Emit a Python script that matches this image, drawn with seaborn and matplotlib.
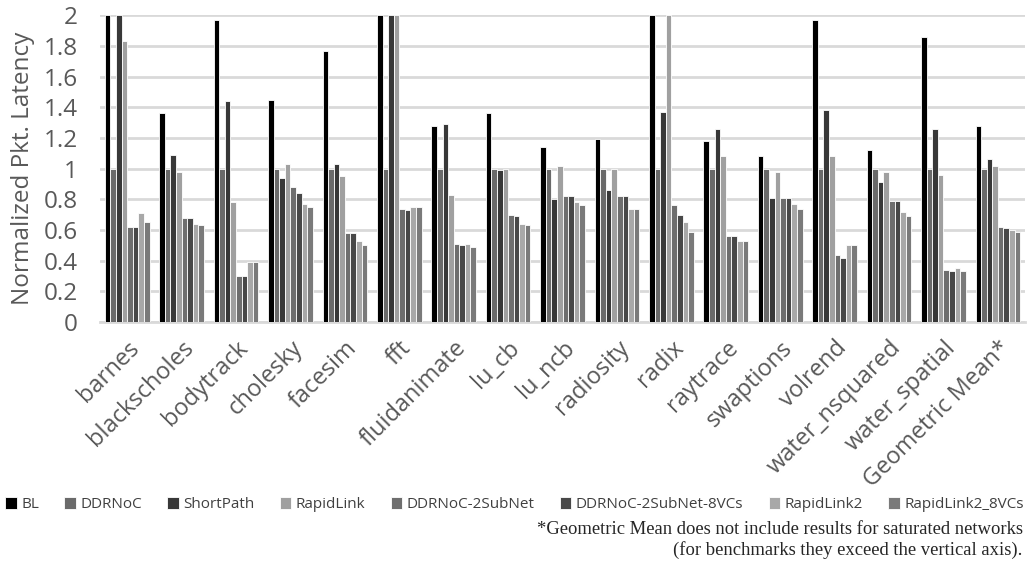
import numpy as np
import matplotlib
matplotlib.use('Agg')
import matplotlib.pyplot as plt
import seaborn as sns
import pandas as pd

# ------------------------------------------ Data ------------------------------------------ #
benchmarks = ['barnes', 'blackscholes', 'bodytrack', 'cholesky', 'facesim', 'fft',
              'fluidanimate', 'lu_cb', 'lu_ncb', 'radiosity', 'radix', 'raytrace',
              'swaptions', 'volrend', 'water_nsquared', 'water_spatial', 'Geometric Mean*']
series = ['BL', 'DDRNoC', 'ShortPath', 'RapidLink', 'DDRNoC-2SubNet',
          'DDRNoC-2SubNet-8VCs', 'RapidLink2', 'RapidLink2_8VCs']

# saturated results are clipped at the top of the axis (2.0)
bl = [2.0, 1.36, 1.97, 1.45, 1.77, 2.0, 1.28, 1.36, 1.14, 1.19, 2.0, 1.18, 1.08, 1.97, 1.12, 1.86, 1.28]
ddrnoc = [1.0] * 17
shortpath = [2.0, 1.09, 1.44, 0.94, 1.03, 2.0, 1.29, 0.99, 0.80, 0.86, 1.37, 1.26, 0.81, 1.38, 0.91, 1.26, 1.06]
rapidlink = [1.83, 0.98, 0.78, 1.03, 0.95, 2.0, 0.83, 1.00, 1.02, 1.00, 2.0, 1.08, 0.98, 1.08, 0.98, 0.96, 1.02]
subnet2 = [0.62, 0.68, 0.30, 0.88, 0.58, 0.74, 0.51, 0.70, 0.82, 0.82, 0.76, 0.56, 0.81, 0.44, 0.79, 0.34, 0.62]
subnet2_8vc = [0.62, 0.68, 0.30, 0.84, 0.58, 0.73, 0.50, 0.69, 0.82, 0.82, 0.70, 0.56, 0.81, 0.42, 0.79, 0.33, 0.61]
rapidlink2 = [0.71, 0.64, 0.39, 0.77, 0.53, 0.75, 0.51, 0.64, 0.78, 0.74, 0.65, 0.53, 0.77, 0.50, 0.72, 0.35, 0.60]
rapidlink2_8vc = [0.65, 0.63, 0.39, 0.75, 0.50, 0.75, 0.49, 0.63, 0.76, 0.74, 0.59, 0.53, 0.74, 0.50, 0.69, 0.33, 0.59]

colors = ['#000000', '#6a6a6a', '#383838', '#a0a0a0', '#6e6e6e', '#484848', '#a8a8a8', '#7a7a7a']
grid_c = '#d9d9d9'
txt_c = '#595959'

# ------------------------------------------ Long format ------------------------------------------ #
values = [bl, ddrnoc, shortpath, rapidlink, subnet2, subnet2_8vc, rapidlink2, rapidlink2_8vc]
rows = []
for s, vals in zip(series, values):
    for b, v in zip(benchmarks, vals):
        rows.append({'Benchmark': b, 'Config': s, 'Latency': v})
df = pd.DataFrame(rows)

# ------------------------------------------ Plot ------------------------------------------ #
sns.set_style('white')
plt.rcParams['font.family'] = ['Open Sans', 'DejaVu Sans']

fig = plt.figure(figsize=(10.29, 5.64), dpi=100)
ax = fig.add_axes([0.0972, 0.429, 0.899, 0.544])

sns.barplot(data=df, x='Benchmark', y='Latency', hue='Config', order=benchmarks,
            hue_order=series, palette=colors, saturation=1, width=0.82,
            edgecolor='white', linewidth=0.6, ax=ax, legend=True, zorder=3)

ax.set_ylim(0, 2)
ax.set_xlim(-0.5, len(benchmarks) - 0.5)
ax.set_yticks(np.arange(0, 2.01, 0.2))
ax.set_yticklabels(['0', '0.2', '0.4', '0.6', '0.8', '1', '1.2', '1.4', '1.6', '1.8', '2'])
ax.yaxis.grid(True, color=grid_c, linewidth=2, zorder=0)
ax.set_axisbelow(True)
for sp in ['top', 'right', 'left']:
    ax.spines[sp].set_visible(False)
ax.spines['bottom'].set_color(grid_c)
ax.spines['bottom'].set_linewidth(2)
ax.tick_params(axis='y', length=0, labelsize=17.5, colors=txt_c, pad=16)
ax.tick_params(axis='x', length=0, labelsize=17, colors=txt_c, pad=10)
plt.setp(ax.get_xticklabels(), rotation=45, ha='right', rotation_mode='anchor')
ax.set_xlabel('')
ax.set_ylabel('Normalized Pkt. Latency', fontsize=17.5, color=txt_c, labelpad=6)

handles, labels = ax.get_legend_handles_labels()
ax.get_legend().remove()
fig.legend(handles, labels, loc='center', bbox_to_anchor=(0.5, 0.105), ncol=8,
           frameon=False, fontsize=11, handlelength=0.75, handleheight=0.75,
           handletextpad=0.3, columnspacing=1.65, labelcolor='#404040',
           borderpad=0, borderaxespad=0)

fig.text(0.994, 0.062, '*Geometric Mean does not include results for saturated networks',
         ha='right', va='center', fontsize=13.4, family='Liberation Serif')
fig.text(0.994, 0.024, '(for benchmarks they exceed the vertical axis).',
         ha='right', va='center', fontsize=13.4, family='Liberation Serif')

fig.savefig('out.png', dpi=100)
